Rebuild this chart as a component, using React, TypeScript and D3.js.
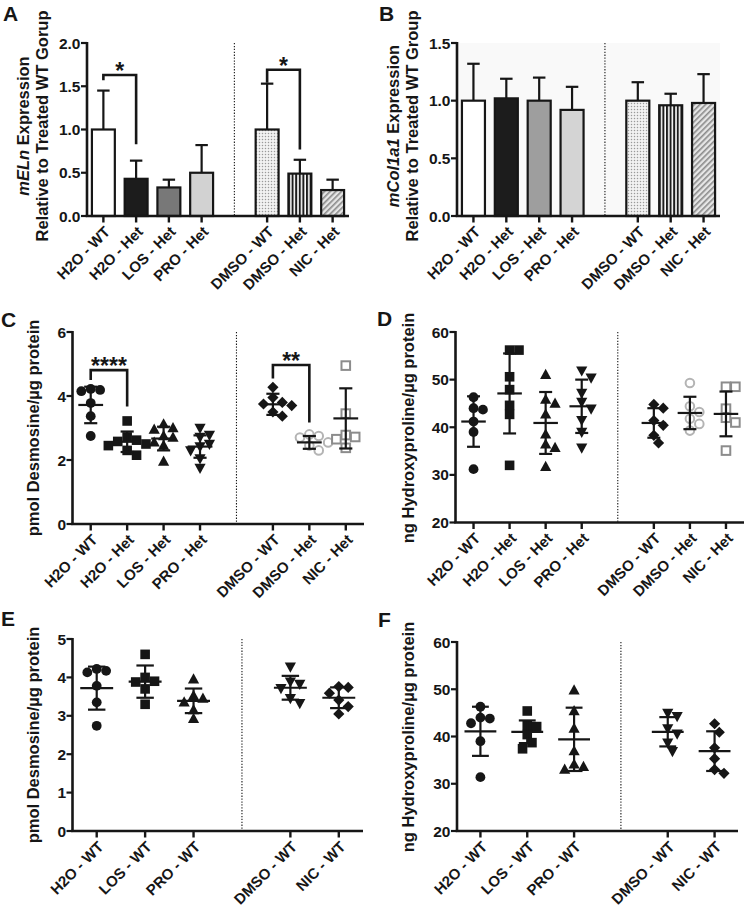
import React from "react";
import * as d3 from "d3";

const FONT = "Arial, 'Liberation Sans', Helvetica, sans-serif";

// ---------- categories ----------
const hetCats = ["H2O - WT", "H2O - Het", "LOS - Het", "PRO - Het", "DMSO - WT", "DMSO - Het", "NIC - Het"];
const wtCats = ["H2O - WT", "LOS - WT", "PRO - WT", "DMSO - WT", "NIC - WT"];

// ---------- panel A: mELn expression ----------
const elnMean = [1.0, 0.43, 0.33, 0.5, 1.0, 0.49, 0.3];
const elnSD = [0.45, 0.21, 0.09, 0.32, 0.53, 0.16, 0.12];
const elnTicks = [0, 0.5, 1.0, 1.5, 2.0];
const elnSig = [
  { a: 0, b: 1, top: 1.63, left: 1.57, right: 0.83, label: "*" },
  { a: 4, b: 5, top: 1.69, left: 1.54, right: 0.77, label: "*" },
];

// ---------- panel B: mCol1a1 expression ----------
const colMean = [1.0, 1.02, 1.0, 0.92, 1.0, 0.96, 0.98];
const colSD = [0.32, 0.17, 0.2, 0.2, 0.16, 0.1, 0.25];
const colTicks = [0, 0.5, 1.0, 1.5];

// ---------- panel C: desmosine (Het) ----------
const desHetPts = [
  [4.22, 4.19, 4.15, 3.78, 3.37, 2.75],
  [3.22, 2.72, 2.62, 2.58, 2.5, 2.45, 2.3, 2.15],
  [3.12, 3.0, 2.95, 2.75, 2.7, 2.55, 2.45, 1.95],
  [3.0, 2.78, 2.72, 2.5, 2.42, 2.3, 2.05, 1.75],
  [4.27, 3.95, 3.8, 3.75, 3.7, 3.5, 3.37],
  [2.8, 2.75, 2.7, 2.55, 2.45, 2.3],
  [4.95, 3.45, 2.78, 2.72, 2.65, 2.38],
];
const desHetMean = [3.72, 2.57, 2.67, 2.42, 3.74, 2.55, 3.3];
const desHetSD = [0.57, 0.32, 0.37, 0.35, 0.33, 0.2, 0.94];
const desHetTicks = [0, 2, 4, 6];
const desHetSig = [
  { a: 0, b: 1, top: 4.81, left: 4.5, right: 3.67, label: "****" },
  { a: 4, b: 5, top: 4.97, left: 4.55, right: 3.17, label: "**" },
];

// ---------- panel D: hydroxyproline (Het) ----------
const hypHetPts = [
  [46.3, 44.0, 43.7, 41.2, 39.0, 31.2],
  [56.2, 56.2, 50.6, 47.9, 44.6, 42.7, 32.0],
  [51.0, 45.8, 45.0, 42.7, 38.5, 36.4, 35.7, 31.7],
  [51.9, 50.4, 47.2, 45.3, 43.9, 41.5, 39.0, 35.7],
  [44.8, 44.0, 41.4, 40.4, 38.3, 36.7],
  [49.3, 44.4, 43.2, 41.8, 40.7, 39.3],
  [48.5, 48.5, 43.9, 42.0, 41.0, 35.1],
];
const hypHetMean = [41.2, 47.1, 40.9, 44.4, 40.9, 43.0, 42.8];
const hypHetSD = [5.3, 8.4, 6.5, 5.6, 3.1, 3.4, 4.7];
const hypTicks = [20, 30, 40, 50, 60];

// ---------- panel E: desmosine (WT) ----------
const desWtPts = [
  [4.22, 4.17, 4.13, 3.78, 3.35, 2.74],
  [4.6, 4.0, 3.9, 3.88, 3.7, 3.3],
  [3.95, 3.52, 3.45, 3.35, 3.15, 2.92],
  [4.28, 3.89, 3.83, 3.72, 3.46, 3.33],
  [3.76, 3.74, 3.59, 3.41, 3.24, 3.05],
];
const desWtMean = [3.72, 3.89, 3.39, 3.73, 3.47];
const desWtSD = [0.56, 0.42, 0.32, 0.31, 0.27];
const desWtTicks = [0, 1, 2, 3, 4, 5];

// ---------- panel F: hydroxyproline (WT) ----------
const hypWtPts = [
  [46.3, 44.0, 43.8, 42.8, 39.0, 31.4],
  [45.4, 42.3, 42.1, 40.4, 38.7, 37.4],
  [49.8, 45.4, 41.7, 36.9, 34.1, 33.6, 33.0],
  [45.0, 44.3, 41.7, 40.6, 38.7, 36.9],
  [42.7, 40.9, 37.6, 35.3, 33.0, 32.2],
];
const hypWtMean = [41.1, 41.0, 39.4, 41.0, 36.9];
const hypWtSD = [5.2, 2.4, 6.7, 3.1, 4.2];

// ---------- styles ----------
const hetShapes = ["circle", "square", "triangle", "triangleDown", "diamond", "openCircle", "openSquare"];
const wtShapes = ["circle", "square", "triangle", "triangleDown", "diamond"];
const barFillsA = ["#ffffff", "#1c1c1c", "#787878", "#d2d2d2", "url(#dotsA)", "url(#vstripeA)", "url(#hatchA)"];
const barFillsB = ["#ffffff", "#1c1c1c", "#9e9e9e", "#d4d4d4", "url(#dotsB)", "url(#vstripeB)", "url(#hatchB)"];

const INK = "#161616";

function slotsOf(cats: string[], gapAt: number) {
  return [...cats.slice(0, gapAt), "__gap__", ...cats.slice(gapAt)];
}

type Geom = { axisX: number; xEnd: number; yTop: number; yBase: number };

function Axes({ g, y, ticks, fmt, x, cats }: any) {
  return (
    <g>
      <line x1={x("__gap__")} x2={x("__gap__")} y1={g.yTop} y2={g.yBase} stroke={INK} strokeWidth={1.1} strokeDasharray="1.3,1.6" />
      <line x1={g.axisX} x2={g.axisX} y1={g.yTop - 1} y2={g.yBase} stroke={INK} strokeWidth={2.6} />
      <line x1={g.axisX - 1.3} x2={g.xEnd} y1={g.yBase} y2={g.yBase} stroke={INK} strokeWidth={2.6} />
      {ticks.map((t: number) => (
        <g key={t}>
          <line x1={g.axisX - 6} x2={g.axisX} y1={y(t)} y2={y(t)} stroke={INK} strokeWidth={2.2} />
          <text x={g.axisX - 6.5} y={y(t)} dy="0.36em" textAnchor="end" fontSize={15.5} fontWeight="bold" fill={INK}>
            {fmt(t)}
          </text>
        </g>
      ))}
      {cats.map((c: string) => (
        <g key={c}>
          <line x1={x(c)} x2={x(c)} y1={g.yBase} y2={g.yBase + 6.5} stroke={INK} strokeWidth={2.4} />
          <text
            transform={`translate(${x(c) + 4},${g.yBase + 13}) rotate(-45)`}
            textAnchor="end"
            dy="0.35em"
            fontSize={15}
            fontWeight="bold"
            fill={INK}
          >
            {c}
          </text>
        </g>
      ))}
    </g>
  );
}

function Sig({ sig, x, y }: any) {
  return (
    <g>
      {sig.map((s: any, i: number) => {
        const xa = x(hetCats[s.a]);
        const xb = x(hetCats[s.b]);
        const yt = y(s.top);
        return (
          <g key={i}>
            <path
              d={`M${xa},${y(s.left)}V${yt}H${xb}V${y(s.right)}`}
              fill="none"
              stroke={INK}
              strokeWidth={2.6}
              strokeLinejoin="miter"
            />
            <text x={(xa + xb) / 2} y={yt + 4} textAnchor="middle" fontSize={23} fontWeight="bold" fill={INK}>
              {s.label}
            </text>
          </g>
        );
      })}
    </g>
  );
}

function BarPanel({ g, means, sds, domain, ticks, fills, sig, bg }: any) {
  const slots = slotsOf(hetCats, 4);
  const x = d3.scalePoint<string>().domain(slots).range([g.axisX, g.xEnd]).padding(0.5);
  const y = d3.scaleLinear().domain(domain).range([g.yBase, g.yTop]);
  const step = x.step();
  const bw = step * 0.7;
  const cap = step * 0.19;
  const fmt = d3.format(".1f");
  return (
    <g>
      {bg && <rect x={g.axisX} y={g.yTop} width={g.xEnd - g.axisX} height={g.yBase - g.yTop} fill={bg} />}
      {hetCats.map((c, i) => {
        const cx = x(c)!;
        const yt = y(means[i]);
        const ye = y(means[i] + sds[i]);
        return (
          <g key={c}>
            <line x1={cx} x2={cx} y1={yt} y2={ye} stroke={INK} strokeWidth={2.2} />
            <line x1={cx - cap} x2={cx + cap} y1={ye} y2={ye} stroke={INK} strokeWidth={2.2} />
            <rect x={cx - bw / 2} y={yt} width={bw} height={g.yBase - yt} fill={fills[i]} stroke={INK} strokeWidth={2.2} />
          </g>
        );
      })}
      <Axes g={g} y={y} ticks={ticks} fmt={fmt} x={x} cats={hetCats} />
      {sig && <Sig sig={sig} x={x} y={y} />}
    </g>
  );
}

function swarm(ys: number[], d: number): number[] {
  const order = ys.map((_, i) => i).sort((a, b) => ys[a] - ys[b]);
  const placed: { x: number; y: number }[] = [];
  const out = new Array(ys.length).fill(0);
  for (const i of order) {
    const yy = ys[i];
    for (let k = 0; k < 60; k++) {
      const m = k === 0 ? 0 : k % 2 === 1 ? Math.ceil(k / 2) : -Math.ceil(k / 2);
      const xx = m * d * 0.5;
      if (placed.every((p) => (p.x - xx) ** 2 + (p.y - yy) ** 2 >= d * d * 0.85)) {
        out[i] = xx;
        placed.push({ x: xx, y: yy });
        break;
      }
    }
  }
  return out;
}

function Marker({ shape, x, y }: any) {
  switch (shape) {
    case "circle":
      return <circle cx={x} cy={y} r={4.9} fill={INK} />;
    case "square":
      return <rect x={x - 4.8} y={y - 4.8} width={9.6} height={9.6} fill={INK} />;
    case "triangle":
      return <path d={`M${x},${y - 6}L${x + 5.6},${y + 4.2}L${x - 5.6},${y + 4.2}Z`} fill={INK} />;
    case "triangleDown":
      return <path d={`M${x},${y + 6}L${x + 5.6},${y - 4.2}L${x - 5.6},${y - 4.2}Z`} fill={INK} />;
    case "diamond":
      return <path d={`M${x},${y - 5.6}L${x + 5.6},${y}L${x},${y + 5.6}L${x - 5.6},${y}Z`} fill={INK} />;
    case "openCircle":
      return <circle cx={x} cy={y} r={4.3} fill="#ffffff" stroke="#b4b4b4" strokeWidth={2} />;
    case "openSquare":
      return <rect x={x - 4.3} y={y - 4.3} width={8.6} height={8.6} fill="#ffffff" stroke="#8c8c8c" strokeWidth={2} />;
    default:
      return null;
  }
}

function DotPanel({ g, cats, gapAt, pts, means, sds, domain, ticks, shapes, sig, fmt }: any) {
  const slots = slotsOf(cats, gapAt);
  const x = d3.scalePoint<string>().domain(slots).range([g.axisX, g.xEnd]).padding(0.5);
  const y = d3.scaleLinear().domain(domain).range([g.yBase, g.yTop]);
  const step = x.step();
  const mh = step * 0.34;
  const ch = step * 0.18;
  return (
    <g>
      {cats.map((c: string, i: number) => {
        const cx = x(c)!;
        const ys = pts[i].map((v: number) => y(v));
        const offs = swarm(ys, 9.4);
        const ym = y(means[i]);
        const yh = y(means[i] + sds[i]);
        const yl = y(means[i] - sds[i]);
        return (
          <g key={c}>
            {ys.map((yy: number, j: number) => (
              <Marker key={j} shape={shapes[i]} x={cx + offs[j]} y={yy} />
            ))}
            <line x1={cx} x2={cx} y1={yh} y2={yl} stroke={INK} strokeWidth={2.2} />
            <line x1={cx - ch} x2={cx + ch} y1={yh} y2={yh} stroke={INK} strokeWidth={2.2} />
            <line x1={cx - ch} x2={cx + ch} y1={yl} y2={yl} stroke={INK} strokeWidth={2.2} />
            <line x1={cx - mh} x2={cx + mh} y1={ym} y2={ym} stroke={INK} strokeWidth={2.2} />
          </g>
        );
      })}
      <Axes g={g} y={y} ticks={ticks} fmt={fmt} x={x} cats={cats} />
      {sig && <Sig sig={sig} x={x} y={y} />}
    </g>
  );
}

function YLabel({ x, cy, children, size = 16.5 }: any) {
  return (
    <text transform={`translate(${x},${cy}) rotate(-90)`} textAnchor="middle" fontSize={size} fontWeight="bold" fill={INK}>
      {children}
    </text>
  );
}

function Letter({ x, y, t }: any) {
  return (
    <text x={x} y={y} fontSize={21} fontWeight="bold" fill={INK}>
      {t}
    </text>
  );
}

function Patterns({ id }: { id: string }) {
  return (
    <>
      <pattern id={`dots${id}`} width={3} height={3} patternUnits="userSpaceOnUse">
        <rect width={3} height={3} fill="#f2f2f2" />
        <circle cx={1.5} cy={1.5} r={0.75} fill="#9a9a9a" />
      </pattern>
      <pattern id={`vstripe${id}`} width={3.6} height={4} patternUnits="userSpaceOnUse">
        <rect width={3.6} height={4} fill="#ffffff" />
        <rect width={2} height={4} fill="#1c1c1c" />
      </pattern>
      <pattern id={`hatch${id}`} width={4} height={4} patternUnits="userSpaceOnUse" patternTransform="rotate(45)">
        <rect width={4} height={4} fill="#e6e6e6" />
        <rect width={1.6} height={4} fill="#8a8a8a" />
      </pattern>
    </>
  );
}

export default function App() {
  const gA: Geom = { axisX: 87, xEnd: 349, yTop: 43, yBase: 216 };
  const gB: Geom = { axisX: 457, xEnd: 720, yTop: 43, yBase: 216 };
  const gC: Geom = { axisX: 72.5, xEnd: 364, yTop: 332, yBase: 524 };
  const gD: Geom = { axisX: 455.5, xEnd: 744, yTop: 332, yBase: 522.5 };
  const gE: Geom = { axisX: 72.5, xEnd: 363, yTop: 639, yBase: 831 };
  const gF: Geom = { axisX: 457, xEnd: 738, yTop: 642, yBase: 831 };
  const f0 = d3.format("d");
  return (
    <svg
      width={745}
      height={914}
      viewBox="0 0 745 914"
      style={{ position: "absolute", left: 0, top: 0, background: "#fff", fontFamily: FONT }}
    >
      <defs>
        <Patterns id="A" />
        <Patterns id="B" />
      </defs>
      <rect width={745} height={914} fill="#ffffff" />

      {/* Panel A */}
      <Letter x={3} y={21} t="A" />
      <YLabel x={29} cy={126}>
        <tspan fontStyle="italic">mELn</tspan> Expression
      </YLabel>
      <YLabel x={48} cy={126}>Relative to Treated WT Gorup</YLabel>
      <BarPanel g={gA} means={elnMean} sds={elnSD} domain={[0, 2]} ticks={elnTicks} fills={barFillsA} sig={elnSig} />

      {/* Panel B */}
      <Letter x={379} y={21} t="B" />
      <YLabel x={399} cy={126}>
        <tspan fontStyle="italic">mCol1a1</tspan> Expression
      </YLabel>
      <YLabel x={418} cy={126}>Relative to Treated WT Group</YLabel>
      <BarPanel g={gB} means={colMean} sds={colSD} domain={[0, 1.5]} ticks={colTicks} fills={barFillsB} bg="#f9f9f9" />

      {/* Panel C */}
      <Letter x={1} y={327} t="C" />
      <YLabel x={39} cy={428}>pmol Desmosine/µg protein</YLabel>
      <DotPanel
        g={gC}
        cats={hetCats}
        gapAt={4}
        pts={desHetPts}
        means={desHetMean}
        sds={desHetSD}
        domain={[0, 6]}
        ticks={desHetTicks}
        shapes={hetShapes}
        sig={desHetSig}
        fmt={f0}
      />

      {/* Panel D */}
      <Letter x={377} y={326} t="D" />
      <YLabel x={414} cy={428}>ng Hydroxyproline/µg protein</YLabel>
      <DotPanel
        g={gD}
        cats={hetCats}
        gapAt={4}
        pts={hypHetPts}
        means={hypHetMean}
        sds={hypHetSD}
        domain={[20, 60]}
        ticks={hypTicks}
        shapes={hetShapes}
        fmt={f0}
      />

      {/* Panel E */}
      <Letter x={1} y={626} t="E" />
      <YLabel x={39} cy={735}>pmol Desmosine/µg protein</YLabel>
      <DotPanel
        g={gE}
        cats={wtCats}
        gapAt={3}
        pts={desWtPts}
        means={desWtMean}
        sds={desWtSD}
        domain={[0, 5]}
        ticks={desWtTicks}
        shapes={wtShapes}
        fmt={f0}
      />

      {/* Panel F */}
      <Letter x={378} y={627} t="F" />
      <YLabel x={414} cy={737}>ng Hydroxyproline/µg protein</YLabel>
      <DotPanel
        g={gF}
        cats={wtCats}
        gapAt={3}
        pts={hypWtPts}
        means={hypWtMean}
        sds={hypWtSD}
        domain={[20, 60]}
        ticks={hypTicks}
        shapes={wtShapes}
        fmt={f0}
      />
    </svg>
  );
}
